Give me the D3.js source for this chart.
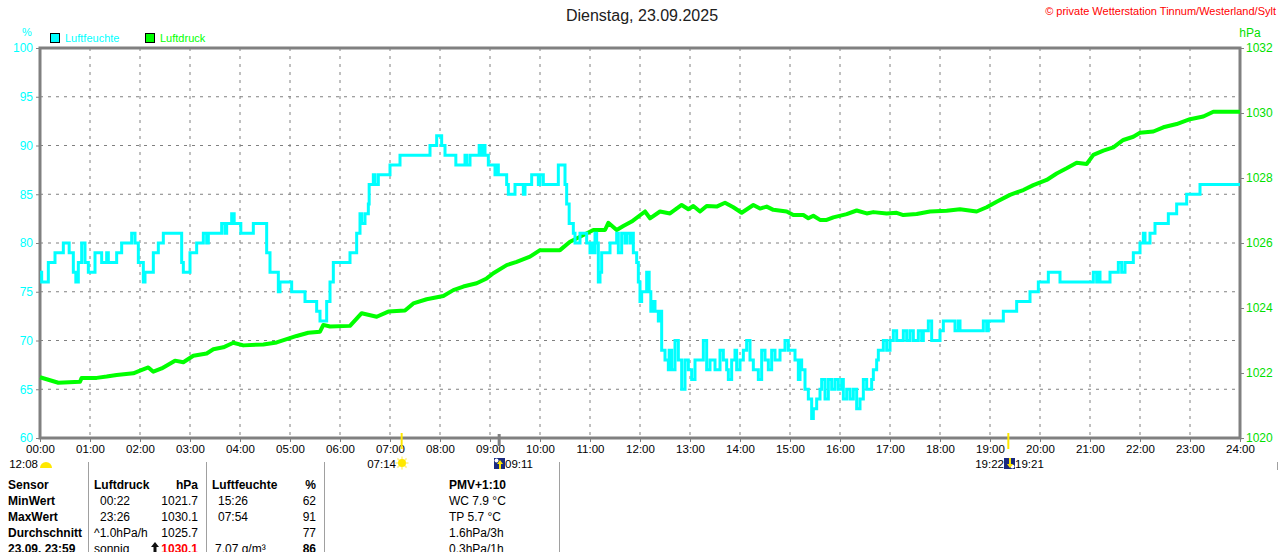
<!DOCTYPE html>
<html>
<head>
<meta charset="utf-8">
<script src="https://cdnjs.cloudflare.com/ajax/libs/d3/7.8.5/d3.min.js"></script>
<style>
  body { margin: 0; background: #fff; }
  svg text { font-family: "Liberation Sans", Arial, sans-serif; }
</style>
</head>
<body>
<div id="chart"></div>
<script>
// humidity (%) change points, minutes after midnight
var humTimes = [0,2,10,18,28,35,40,43,46,50,54,58,66,74,80,82,92,98,110,114,118,124,126,136,142,148,170,172,180,188,196,200,202,218,222,224,230,233,241,256,272,276,286,288,302,318,332,336,344,348,352,372,380,384,386,390,394,395,400,402,406,420,432,468,476,482,486,499,510,512,516,527,529,532,534,538,546,548,550,560,562,570,580,582,590,598,600,604,622,630,632,635,640,642,648,656,660,662,665,666,668,670,672,674,684,692,694,698,702,704,708,710,712,716,718,720,722,728,731,733,736,738,742,744,746,750,754,755,758,762,766,770,774,778,782,786,796,800,804,810,816,820,824,826,830,834,836,840,844,848,852,856,862,866,870,874,878,882,888,894,898,906,910,912,914,918,922,926,928,932,936,938,942,946,950,954,958,962,964,968,972,976,980,984,988,992,998,1000,1004,1006,1012,1016,1020,1024,1028,1036,1040,1044,1048,1054,1058,1060,1066,1070,1080,1084,1098,1102,1104,1132,1136,1138,1156,1172,1188,1198,1210,1224,1264,1268,1270,1272,1284,1294,1298,1302,1312,1320,1324,1326,1332,1338,1354,1364,1376,1392,1440];
var humValues = [77,76,78,79,80,79,77,76,78,80,78,77,79,78,79,78,79,80,81,80,78,76,77,79,80,81,78,77,79,80,81,80,81,82,81,82,83,82,81,82,79,77,75,76,75,74,73,72,74,76,78,79,81,83,82,83,84,86,87,86,87,88,89,90,91,90,89,88,89,88,89,90,89,90,89,88,87,88,87,86,85,86,85,86,87,86,87,86,88,86,84,82,81,80,81,80,79,80,79,81,80,76,77,79,80,81,79,81,80,81,80,81,79,78,76,74,75,77,75,73,74,73,72,73,69,68,67,69,67,70,68,65,68,67,66,68,70,67,68,67,69,68,67,66,68,69,67,68,69,70,68,67,66,69,68,67,69,68,69,70,69,68,66,68,67,65,64,62,63,64,65,66,64,66,65,66,65,66,64,65,64,65,63,64,66,65,66,67,68,69,70,69,70,71,70,71,70,71,70,71,70,71,72,70,71,72,71,72,71,72,71,72,73,74,75,76,77,76,77,76,77,76,77,78,77,78,79,80,81,80,81,82,83,84,85,86,86];

// air pressure (hPa), minutes after midnight
var pressTimes = [0,22,48,50,68,80,92,112,120,130,136,146,162,172,184,200,208,220,232,244,268,284,296,308,322,336,340,348,372,386,404,418,438,448,464,484,496,508,524,536,544,560,572,588,600,624,636,648,664,678,682,692,700,710,726,732,744,756,770,778,784,792,800,812,822,832,842,856,864,872,880,896,904,916,922,928,936,944,952,968,980,992,1000,1016,1028,1036,1052,1068,1088,1104,1124,1136,1148,1164,1180,1192,1208,1220,1232,1244,1256,1264,1276,1288,1300,1312,1320,1336,1348,1364,1380,1396,1408,1440];
var pressValues = [1021.87,1021.7,1021.73,1021.85,1021.85,1021.89,1021.94,1021.99,1022.07,1022.17,1022.04,1022.14,1022.38,1022.33,1022.53,1022.6,1022.73,1022.79,1022.93,1022.85,1022.88,1022.94,1023.04,1023.14,1023.24,1023.27,1023.48,1023.43,1023.45,1023.84,1023.73,1023.89,1023.92,1024.14,1024.27,1024.37,1024.55,1024.66,1024.76,1024.91,1025.07,1025.32,1025.42,1025.58,1025.78,1025.78,1026.04,1026.19,1026.4,1026.4,1026.62,1026.4,1026.52,1026.66,1026.97,1026.76,1026.97,1026.91,1027.17,1027.04,1027.14,1026.97,1027.14,1027.12,1027.24,1027.1,1026.93,1027.17,1027.06,1027.12,1027.02,1026.97,1026.86,1026.86,1026.76,1026.84,1026.71,1026.71,1026.79,1026.89,1027.0,1026.91,1026.95,1026.91,1026.93,1026.86,1026.89,1026.97,1026.99,1027.04,1026.97,1027.1,1027.27,1027.48,1027.63,1027.78,1027.94,1028.14,1028.3,1028.47,1028.43,1028.71,1028.84,1028.94,1029.17,1029.27,1029.39,1029.43,1029.56,1029.66,1029.81,1029.89,1030.04,1030.04];

var hourLabels = ["00:00","01:00","02:00","03:00","04:00","05:00","06:00","07:00","08:00","09:00","10:00","11:00","12:00","13:00","14:00","15:00","16:00","17:00","18:00","19:00","20:00","21:00","22:00","23:00","24:00"];
var humTicks = [60,65,70,75,80,85,90,95,100];
var pressTicks = [1020,1022,1024,1026,1028,1030,1032];

// sun / moon events (minutes)
var sunrise = 434, sunset = 1162, moonrise = 551;

// table below the chart
var tableRows = [
  {label: "Sensor", pt: "Luftdruck", pv: "hPa", ht: "Luftfeuchte", hv: "%", ex: "PMV+1:10", head: true},
  {label: "MinWert", pt: "00:22", pv: "1021.7", ht: "15:26", hv: "62", ex: "WC 7.9 °C"},
  {label: "MaxWert", pt: "23:26", pv: "1030.1", ht: "07:54", hv: "91", ex: "TP 5.7 °C"},
  {label: "Durchschnitt", pt: "^1.0hPa/h", pv: "1025.7", ht: "", hv: "77", ex: "1.6hPa/3h"},
  {label: "23.09. 23:59", pt: "sonnig", pv: "1030.1", ht: "7.07 g/m³", hv: "86", ex: "0.3hPa/1h", last: true}
];

var width = 1280, height = 552;
var pL = 40, pR = 1240, pT = 48, pB = 438;

var x = d3.scaleLinear().domain([0, 1440]).range([pL, pR]);
var yH = d3.scaleLinear().domain([60, 100]).range([pB, pT]);
var yP = d3.scaleLinear().domain([1020, 1032]).range([pB, pT]);

var svg = d3.select("#chart").append("svg")
    .attr("width", width)
    .attr("height", height);

// grid
svg.append("g")
  .selectAll("line")
  .data(d3.range(1, 24))
  .enter().append("line")
  .attr("x1", function(d) { return x(d * 60); })
  .attr("x2", function(d) { return x(d * 60); })
  .attr("y1", pT).attr("y2", pB)
  .attr("stroke", "#808080")
  .attr("stroke-dasharray", "3,5");

svg.append("g")
  .selectAll("line")
  .data(humTicks.slice(1, -1))
  .enter().append("line")
  .attr("x1", pL).attr("x2", pR)
  .attr("y1", function(d) { return yH(d); })
  .attr("y2", function(d) { return yH(d); })
  .attr("stroke", "#808080")
  .attr("stroke-dasharray", "3,5");

// frame
svg.append("rect")
  .attr("x", pL).attr("y", pT)
  .attr("width", pR - pL).attr("height", pB - pT)
  .attr("fill", "none")
  .attr("stroke", "#808080")
  .attr("stroke-width", 3);

// left axis (humidity)
var axL = svg.append("g")
  .attr("transform", "translate(" + pL + ",0)")
  .call(d3.axisLeft(yH).tickValues(humTicks).tickSize(4).tickPadding(3));
axL.select(".domain").remove();
axL.selectAll("line").attr("stroke", "#808080");
axL.selectAll("text").attr("fill", "#00FFFF").style("font-size", "12px")
   .style("font-family", "Liberation Sans, Arial, sans-serif");

// right axis (pressure)
var axR = svg.append("g")
  .attr("transform", "translate(" + pR + ",0)")
  .call(d3.axisRight(yP).tickValues(pressTicks).tickSize(4).tickPadding(2).tickFormat(d3.format("d")));
axR.select(".domain").remove();
axR.selectAll("line").attr("stroke", "#808080");
axR.selectAll("text").attr("fill", "#00E000").style("font-size", "12px")
   .style("font-family", "Liberation Sans, Arial, sans-serif");

// bottom axis (time)
var axB = svg.append("g")
  .attr("transform", "translate(0," + pB + ")")
  .call(d3.axisBottom(x).tickValues(d3.range(0, 1441, 60)).tickSize(4).tickPadding(3)
        .tickFormat(function(d, i) { return hourLabels[i]; }));
axB.select(".domain").remove();
axB.selectAll("line").attr("stroke", "#808080");
axB.selectAll("text").attr("fill", "#000").style("font-size", "11.5px")
   .style("font-family", "Liberation Sans, Arial, sans-serif");

// units
svg.append("text").attr("x", 27).attr("y", 36).attr("text-anchor", "middle")
  .attr("fill", "#00FFFF").style("font-size", "11px").text("%");
svg.append("text").attr("x", 1250).attr("y", 37).attr("text-anchor", "middle")
  .attr("fill", "#00E000").style("font-size", "12px").text("hPa");

// legend
var legend = [{name: "Luftfeuchte", color: "#00FFFF", x: 50}, {name: "Luftdruck", color: "#00FF00", x: 145}];
legend.forEach(function(l) {
  svg.append("rect").attr("x", l.x + 0.5).attr("y", 33.5).attr("width", 9).attr("height", 9)
    .attr("fill", l.color).attr("stroke", "#000");
  svg.append("text").attr("x", l.x + 15).attr("y", 42)
    .attr("fill", l.color).style("font-size", "11px").text(l.name);
});

// title + copyright
svg.append("text").attr("x", 642).attr("y", 21).attr("text-anchor", "middle")
  .attr("fill", "#202020").style("font-size", "16px").text("Dienstag, 23.09.2025");
svg.append("text").attr("x", 1276).attr("y", 15).attr("text-anchor", "end")
  .attr("fill", "#FF0000").style("font-size", "11px").text("© private Wetterstation Tinnum/Westerland/Sylt");

// series
var humData = humTimes.map(function(t, i) { return {t: t, v: humValues[i]}; });
var pressData = pressTimes.map(function(t, i) { return {t: t, v: pressValues[i]}; });

svg.append("path")
  .datum(pressData)
  .attr("fill", "none")
  .attr("stroke", "#00FF00")
  .attr("stroke-width", 4)
  .attr("stroke-linejoin", "round")
  .attr("d", d3.line().x(function(d) { return x(d.t); }).y(function(d) { return yP(d.v); }));

svg.append("path")
  .datum(humData)
  .attr("fill", "none")
  .attr("stroke", "#00FFFF")
  .attr("stroke-width", 3)
  .attr("d", d3.line().curve(d3.curveStepAfter)
        .x(function(d) { return x(d.t); }).y(function(d) { return yH(d.v); }));

// sun and moon markers
[sunrise, sunset].forEach(function(t) {
  svg.append("line").attr("x1", x(t)).attr("x2", x(t)).attr("y1", 433).attr("y2", 449)
    .attr("stroke", "#FFE800").attr("stroke-width", 2);
});
svg.append("line").attr("x1", x(moonrise)).attr("x2", x(moonrise)).attr("y1", 434).attr("y2", 446)
  .attr("stroke", "#808080").attr("stroke-width", 3);

function sunIcon(cx, cy) {
  var g = svg.append("g").attr("transform", "translate(" + cx + "," + cy + ")");
  d3.range(8).forEach(function(i) {
    var a = i * Math.PI / 4;
    g.append("line").attr("x1", Math.cos(a) * 4).attr("y1", Math.sin(a) * 4)
      .attr("x2", Math.cos(a) * 6.5).attr("y2", Math.sin(a) * 6.5)
      .attr("stroke", "#FFF080").attr("stroke-width", 1.5);
  });
  g.append("circle").attr("r", 4).attr("fill", "#FFE800");
}
function moonIcon(px, py, up) {
  var g = svg.append("g").attr("transform", "translate(" + px + "," + py + ")");
  g.append("rect").attr("width", 11).attr("height", 11).attr("fill", "#1A2A80");
  g.append("circle").attr("cx", up ? 2.5 : 8.5).attr("cy", up ? 2.5 : 8.5).attr("r", 2).attr("fill", "#fff");
  g.append("path").attr("d", up ? "M6,2 L9,6 L7,6 L7,11 L5,11 L5,6 L3,6 Z" : "M6,10 L9,6 L7,6 L7,0 L5,0 L5,6 L3,6 Z")
    .attr("fill", "#FFE800");
}
// half-sun for the 12:08 note
svg.append("path").attr("d", "M40,468 A6,6 0 0 1 52,468 Z").attr("fill", "#FFE800");
svg.append("text").attr("x", 38).attr("y", 468).attr("text-anchor", "end").style("font-size", "11.5px").text("12:08");

sunIcon(402, 463);
svg.append("text").attr("x", 396).attr("y", 468).attr("text-anchor", "end").style("font-size", "11.5px").text("07:14");

moonIcon(494, 458, true);
svg.append("text").attr("x", 505).attr("y", 468).style("font-size", "11.5px").text("09:11");

moonIcon(1004, 458, false);
svg.append("text").attr("x", 1004).attr("y", 468).attr("text-anchor", "end").style("font-size", "11.5px").text("19:22");
svg.append("text").attr("x", 1015).attr("y", 468).style("font-size", "11.5px").text("19:21");

// table
[88, 206, 324, 559].forEach(function(sx) {
  svg.append("line").attr("x1", sx + 0.5).attr("x2", sx + 0.5).attr("y1", 462).attr("y2", 552)
    .attr("stroke", "#A0A0A0");
});
svg.append("line").attr("x1", 1277.5).attr("x2", 1277.5).attr("y1", 462).attr("y2", 470).attr("stroke", "#A0A0A0");

tableRows.forEach(function(r, i) {
  var by = 489 + i * 16;
  var hw = r.head ? "bold" : "normal";
  svg.append("text").attr("x", 8).attr("y", by).style("font-size", "12px").style("font-weight", "bold").text(r.label);
  svg.append("text").attr("x", r.head || i >= 3 ? 94 : 100).attr("y", by).style("font-size", "12px").style("font-weight", hw).text(r.pt);
  var pv = svg.append("text").attr("x", 198).attr("y", by).attr("text-anchor", "end")
    .style("font-size", "12px").style("font-weight", r.head || r.last ? "bold" : "normal").text(r.pv);
  if (r.last) {
    pv.attr("fill", "#FF0000");
    svg.append("path").attr("d", "M155," + (by - 11) + " L159," + (by - 6) + " L156.5," + (by - 6) + " L156.5," + by + " L153.5," + by + " L153.5," + (by - 6) + " L151," + (by - 6) + " Z")
      .attr("fill", "#101010");
  }
  svg.append("text").attr("x", r.head ? 212 : (r.last ? 215 : 218)).attr("y", by).style("font-size", "12px").style("font-weight", hw).text(r.ht);
  svg.append("text").attr("x", 316).attr("y", by).attr("text-anchor", "end")
    .style("font-size", "12px").style("font-weight", r.head || r.last ? "bold" : "normal").text(r.hv);
  svg.append("text").attr("x", 449).attr("y", by).style("font-size", "12px").style("font-weight", hw).text(r.ex);
});
</script>
</body>
</html>
